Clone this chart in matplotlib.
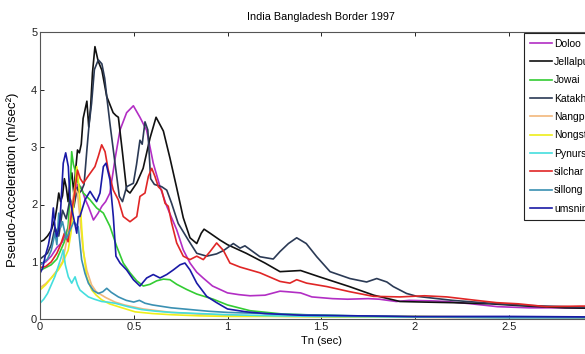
import numpy as np
import matplotlib
matplotlib.use("Agg")
import matplotlib.pyplot as plt

plt.rcParams['font.family'] = ['Liberation Sans', 'DejaVu Sans']

# response spectra, period Tn (sec) vs pseudo-acceleration (m/sec^2)
stations = ["Doloo", "Jellalpur", "Jowai", "Katakhal", "Nangpah",
            "Nongstoin", "Pynursla", "silchar", "sillong", "umsning"]

doloo_t = [0, 0.03, 0.06, 0.09, 0.12, 0.15, 0.18, 0.2, 0.22, 0.24, 0.26, 0.285, 0.31, 0.33, 0.35,
           0.373, 0.4, 0.427, 0.462, 0.498, 0.533, 0.569, 0.604, 0.64, 0.676, 0.729, 0.764, 0.8,
           0.836, 0.87, 0.92, 1.0, 1.06, 1.12, 1.2, 1.28, 1.32, 1.39, 1.45, 1.56, 1.64, 1.75, 1.81,
           1.9, 1.97, 2.1, 2.17, 2.3, 2.44, 2.61, 2.75, 3.0]
doloo_a = [0.95, 1.0, 1.1, 1.25, 1.35, 1.6, 2.0, 2.35, 2.3, 2.1, 1.95, 1.73, 1.85, 1.97, 2.05,
           2.2, 2.79, 3.3, 3.6, 3.72, 3.52, 3.29, 2.72, 2.31, 1.97, 1.56, 1.21, 0.98,
           0.82, 0.72, 0.58, 0.46, 0.43, 0.41, 0.42, 0.49, 0.48, 0.46, 0.39, 0.36, 0.35, 0.36, 0.35,
           0.31, 0.33, 0.32, 0.31, 0.27, 0.22, 0.2, 0.2, 0.19]

jellalpur_t = [0, 0.02, 0.04, 0.06, 0.08, 0.09, 0.1, 0.11, 0.12, 0.13, 0.14, 0.15, 0.16, 0.17, 0.18,
               0.19, 0.2, 0.21, 0.22, 0.23, 0.24, 0.25, 0.26, 0.27, 0.28, 0.293, 0.31, 0.33, 0.356,
               0.39, 0.405, 0.418, 0.44, 0.462, 0.48, 0.515, 0.55, 0.587, 0.619, 0.658, 0.693, 0.729,
               0.764, 0.8, 0.836, 0.86, 0.875, 0.907, 0.96, 1.0, 1.1, 1.2, 1.28, 1.39, 1.49, 1.65,
               1.78, 1.92, 2.05, 2.2, 2.4, 2.6, 2.8, 3.0]
jellalpur_a = [1.35, 1.38, 1.45, 1.55, 1.75, 1.95, 2.2, 2.05, 2.15, 2.45, 2.3, 2.05, 2.4, 2.55, 2.2,
               2.6, 2.95, 2.9, 3.05, 3.5, 3.65, 3.8, 3.35, 3.7, 4.3, 4.75, 4.5, 4.34, 3.88,
               3.6, 3.55, 3.52, 2.9, 2.25, 2.2, 2.37, 2.63, 3.16, 3.52, 3.28, 2.81, 2.29,
               1.77, 1.42, 1.32, 1.5, 1.57, 1.5, 1.38, 1.3, 1.15, 0.98, 0.83, 0.85, 0.74, 0.57,
               0.42, 0.31, 0.3, 0.29, 0.27, 0.23, 0.2, 0.19]

jowai_t = [0, 0.03, 0.06, 0.09, 0.11, 0.13, 0.15, 0.16, 0.169, 0.178, 0.187, 0.2, 0.215, 0.231,
           0.267, 0.302, 0.338, 0.373, 0.409, 0.444, 0.48, 0.516, 0.551, 0.587, 0.622, 0.658,
           0.693, 0.729, 0.782, 0.836, 0.924, 1.0, 1.12, 1.3, 1.5, 1.8, 2.2, 2.6, 3.0]
jowai_a = [0.85, 0.9, 0.95, 1.05, 1.2, 1.35, 1.6, 2.2, 2.92, 2.7, 2.6, 2.4, 2.3, 2.2,
           2.08, 1.94, 1.85, 1.62, 1.27, 0.98, 0.81, 0.67, 0.58, 0.61, 0.67, 0.7,
           0.69, 0.61, 0.52, 0.44, 0.35, 0.25, 0.15, 0.09, 0.07, 0.05, 0.04, 0.04, 0.03]

katakhal_t = [0, 0.02, 0.04, 0.06, 0.08, 0.1, 0.12, 0.14, 0.16, 0.18, 0.2, 0.21, 0.222, 0.235, 0.25,
              0.262, 0.275, 0.29, 0.311, 0.33, 0.345, 0.356, 0.373, 0.4, 0.423, 0.44, 0.462, 0.498,
              0.515, 0.533, 0.545, 0.56, 0.575, 0.59, 0.61, 0.649, 0.676, 0.702, 0.737, 0.791,
              0.836, 0.889, 0.942, 0.98, 1.031, 1.067, 1.093, 1.173, 1.244, 1.28, 1.325, 1.369,
              1.42, 1.476, 1.547, 1.653, 1.742, 1.796, 1.85, 1.884, 1.955, 2.01, 2.2, 2.4, 2.6,
              2.8, 3.0]
katakhal_a = [1.05, 1.1, 1.15, 1.3, 1.6, 1.45, 1.9, 1.75, 2.1, 1.95, 2.3, 2.2, 2.25, 2.35, 2.95,
              3.4, 3.76, 4.35, 4.52, 4.45, 4.2, 3.88, 3.41, 2.72, 2.14, 2.05, 2.31, 2.37,
              2.7, 3.12, 3.05, 3.44, 3.3, 2.45, 2.35, 2.31, 2.25, 2.02, 1.67, 1.38,
              1.15, 1.1, 1.14, 1.2, 1.32, 1.24, 1.28, 1.09, 1.05, 1.18, 1.32, 1.42,
              1.32, 1.09, 0.83, 0.71, 0.65, 0.71, 0.65, 0.57, 0.45, 0.4, 0.33, 0.28, 0.24,
              0.22, 0.2]

nangpah_t = [0, 0.03, 0.06, 0.09, 0.12, 0.15, 0.17, 0.185, 0.2, 0.215, 0.23, 0.25, 0.275, 0.3,
             0.35, 0.4, 0.45, 0.55, 0.7, 0.85, 1.0, 1.3, 1.7, 2.2, 2.6, 3.0]
nangpah_a = [0.55, 0.62, 0.72, 0.85, 1.0, 1.5, 2.0, 2.3, 2.2, 1.7, 1.2, 0.85, 0.6, 0.48,
             0.38, 0.3, 0.25, 0.18, 0.12, 0.09, 0.07, 0.05, 0.04, 0.03, 0.03, 0.02]

nongstoin_t = [0, 0.03, 0.06, 0.098, 0.12, 0.15, 0.165, 0.178, 0.196, 0.205, 0.215, 0.222, 0.231,
               0.249, 0.276, 0.3, 0.329, 0.37, 0.418, 0.507, 0.6, 0.7, 0.85, 1.0, 1.3, 1.6, 2.0,
               2.4, 2.8, 3.0]
nongstoin_a = [0.51, 0.6, 0.72, 0.86, 0.98, 1.2, 1.5, 1.96, 2.66, 2.4, 2.0, 1.61, 1.21,
               0.74, 0.51, 0.42, 0.34, 0.27, 0.22, 0.13, 0.1, 0.08, 0.06, 0.05, 0.05, 0.04, 0.05,
               0.04, 0.04, 0.03]

pynursla_t = [0, 0.02, 0.04, 0.06, 0.08, 0.1, 0.115, 0.124, 0.135, 0.151, 0.169, 0.187, 0.2, 0.213,
              0.235, 0.258, 0.29, 0.329, 0.36, 0.4, 0.47, 0.54, 0.62, 0.7, 0.85, 1.0, 1.25, 1.5,
              2.0, 2.5, 3.0]
pynursla_a = [0.28, 0.35, 0.45, 0.6, 0.75, 0.95, 1.1, 1.21, 0.95, 0.74, 0.63, 0.74, 0.6, 0.51,
              0.45, 0.39, 0.35, 0.31, 0.3, 0.28, 0.22, 0.17, 0.14, 0.12, 0.1, 0.08, 0.06, 0.05,
              0.04, 0.03, 0.03]

silchar_t = [0, 0.03, 0.06, 0.09, 0.11, 0.13, 0.15, 0.17, 0.185, 0.2, 0.215, 0.231, 0.258, 0.293,
             0.311, 0.329, 0.347, 0.364, 0.391, 0.418, 0.444, 0.48, 0.516, 0.533, 0.56, 0.578,
             0.596, 0.613, 0.631, 0.649, 0.667, 0.684, 0.702, 0.729, 0.764, 0.8, 0.836, 0.871,
             0.907, 0.942, 0.978, 1.013, 1.067, 1.173, 1.28, 1.333, 1.369, 1.422, 1.53, 1.653,
             1.778, 1.92, 2.05, 2.17, 2.3, 2.435, 2.55, 2.7, 2.88, 3.0]
silchar_a = [0.9, 0.92, 1.0, 1.15, 1.3, 1.5, 1.35, 1.9, 2.2, 2.6, 2.45, 2.37, 2.5, 2.66,
             2.84, 3.04, 2.92, 2.6, 2.25, 2.08, 1.79, 1.7, 1.79, 2.14, 2.2, 2.49,
             2.63, 2.49, 2.31, 2.25, 2.02, 1.97, 1.68, 1.33, 1.1, 1.04, 1.1, 1.04,
             1.18, 1.33, 1.2, 0.98, 0.91, 0.81, 0.66, 0.63, 0.69, 0.63, 0.57, 0.48,
             0.4, 0.39, 0.41, 0.39, 0.34, 0.29, 0.27, 0.22, 0.23, 0.23]

sillong_t = [0, 0.02, 0.04, 0.06, 0.08, 0.09, 0.1, 0.11, 0.12, 0.14, 0.16, 0.18, 0.204, 0.222, 0.24,
             0.258, 0.285, 0.311, 0.335, 0.356, 0.38, 0.418, 0.46, 0.5, 0.53, 0.56, 0.6, 0.7, 0.8,
             0.9, 1.0, 1.2, 1.4, 1.7, 2.0, 2.5, 3.0]
sillong_a = [0.95, 1.0, 1.05, 1.2, 1.5, 1.3, 1.85, 1.6, 1.7, 1.4, 1.55, 1.7, 1.61, 1.04, 0.8,
             0.63, 0.5, 0.45, 0.48, 0.54, 0.47, 0.39, 0.33, 0.3, 0.33, 0.28, 0.25, 0.2, 0.17,
             0.14, 0.12, 0.1, 0.08, 0.06, 0.04, 0.03, 0.03]

umsning_t = [0, 0.015, 0.027, 0.045, 0.062, 0.071, 0.08, 0.089, 0.098, 0.107, 0.115, 0.124, 0.137,
             0.151, 0.16, 0.178, 0.196, 0.204, 0.213, 0.24, 0.267, 0.284, 0.302, 0.32, 0.338,
             0.352, 0.373, 0.391, 0.405, 0.427, 0.462, 0.498, 0.533, 0.569, 0.604, 0.64, 0.676,
             0.711, 0.747, 0.773, 0.8, 0.836, 0.889, 0.942, 1.0, 1.1, 1.2, 1.4, 1.7, 2.0, 2.5, 3.0]
umsning_a = [0.8, 0.9, 1.09, 1.3, 1.61, 1.94, 1.6, 1.44, 1.55, 1.74, 2.2, 2.72, 2.9,
             2.66, 2.08, 1.79, 1.5, 1.79, 1.79, 2.08, 2.23, 2.14, 2.05, 2.2, 2.66,
             2.72, 2.43, 1.79, 1.1, 0.98, 0.86, 0.69, 0.58, 0.72, 0.78, 0.72, 0.78,
             0.86, 0.95, 0.98, 0.86, 0.63, 0.4, 0.29, 0.18, 0.13, 0.1, 0.07, 0.06, 0.05, 0.05, 0.04]

periods = [doloo_t, jellalpur_t, jowai_t, katakhal_t, nangpah_t,
           nongstoin_t, pynursla_t, silchar_t, sillong_t, umsning_t]
accels = [doloo_a, jellalpur_a, jowai_a, katakhal_a, nangpah_a,
          nongstoin_a, pynursla_a, silchar_a, sillong_a, umsning_a]
colors = ['#b22ec4', '#111111', '#33cc33', '#2b3a55', '#f2b77c',
          '#eeee1a', '#44dede', '#e02626', '#3a90b2', '#1a1aa6']

fig = plt.figure(figsize=(5.85, 3.54), dpi=100)
# axes run out to Tn = 3, past the right edge of the canvas
ax = fig.add_axes([40/585, 34.7/354, 562.5/585, 287/354])

for name, t, a, c in zip(stations, periods, accels, colors):
    ax.plot(t, a, color=c, lw=1.2, label=name)

ax.set_xlim(0, 3)
ax.set_ylim(0, 5)
ax.set_xticks([0, 0.5, 1, 1.5, 2, 2.5])
ax.set_xticklabels(['0', '0.5', '1', '1.5', '2', '2.5'])
ax.set_yticks([0, 1, 2, 3, 4, 5])
ax.tick_params(direction='in', top=True, right=True, length=3, width=0.7,
               labelsize=8, pad=2, colors='#222222')
for s in ax.spines.values():
    s.set_color('#555555')
    s.set_linewidth(0.8)

fig.text(321/585, 1 - 16.5/354, 'India Bangladesh Border 1997', ha='center', va='center', fontsize=7.8)
fig.text(321/585, 1 - 341/354, 'Tn (sec)', ha='center', va='center', fontsize=8)
fig.text(12.5/585, 1 - 180/354, 'Pseudo-Acceleration (m/sec²)', ha='center', va='center',
         rotation=90, fontsize=9.5)

leg = ax.legend(loc='upper left', bbox_to_anchor=(524/585, 1 - 32.5/354),
                bbox_transform=fig.transFigure, borderaxespad=0, fontsize=7.5,
                handlelength=2.1, handletextpad=0.2, labelspacing=0.8,
                borderpad=0.6, fancybox=False, framealpha=1)
leg.get_frame().set_edgecolor('#222222')
leg.get_frame().set_linewidth(0.8)

fig.savefig('out.png', dpi=100)
